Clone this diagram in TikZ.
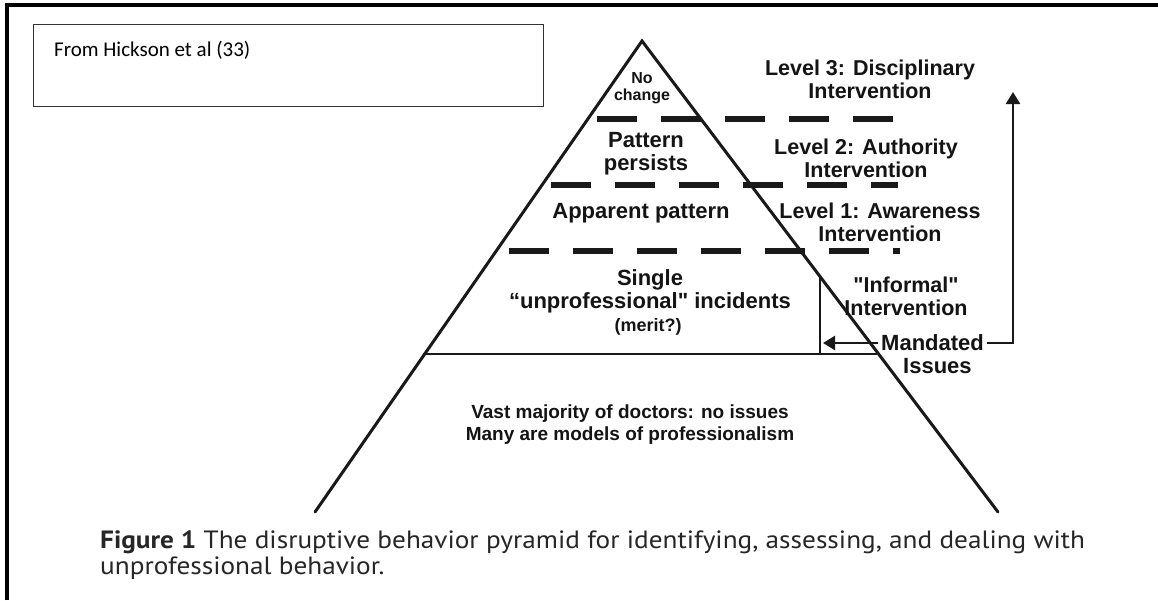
\documentclass[tikz,border=0pt]{standalone}
\usepackage{fontspec}
\setmainfont{Liberation Sans}
\newfontfamily\capfont[FakeStretch=1.09]{PT Sans}
\newfontfamily\notefont{Carlito}
\usetikzlibrary{arrows.meta}

\begin{document}
\begin{tikzpicture}[x=1pt,y=-1pt,
  lbl/.style={font=\bfseries\fontsize{22}{23}\selectfont, align=center, inner sep=0pt, text=black!92},
  lvl/.style={font=\bfseries\fontsize{21.5}{23}\selectfont, align=center, inner sep=0pt, text=black!92},
  small/.style={font=\bfseries\fontsize{16}{17}\selectfont, align=center, inner sep=0pt, text=black!92},
  base/.style={font=\bfseries\fontsize{19}{22}\selectfont, align=center, inner sep=0pt, text=black!92},
  edge/.style={line width=3pt, line cap=round, black!90},
  thin/.style={line width=2.5pt, black!90},
  dashline/.style={line width=5.5pt, black!90, dash pattern=on 40pt off 24pt},
  captxt/.style={font=\capfont\fontsize{25}{27}\selectfont, anchor=west, inner sep=0pt, text=black!85},
  tip/.style={-{Triangle[length=12pt,width=14pt]}},
]
\useasboundingbox (0,0) rectangle (1158,600);
\fill[white] (0,0) rectangle (1158,600);

% outer frame (top and left rules)
\draw[line width=4pt] (7,600) -- (7,4.5) -- (1158,4.5);

% source note
\node[draw=black!80, line width=1.2pt, minimum width=510pt, minimum height=82pt,
      anchor=north west, inner sep=0pt] (srcbox) at (33,24) {};
\node[font=\notefont\fontsize{21}{23}\selectfont, anchor=west, inner sep=0pt] (src) at (54,50) {From Hickson et al (33)};

% pyramid outline
\coordinate (apex) at (642,41);
\coordinate (lfoot) at (315,512);
\coordinate (rfoot) at (998,512);
\draw[edge] (lfoot) -- (apex) -- (rfoot);

% base of the upper tiers and the informal split
\coordinate (bl) at (423,354);
\coordinate (br) at (877,354);
\coordinate (vt) at (820,278);
\coordinate (vb) at (820,354);
\draw[thin] (bl) -- (br);
\draw[thin] (vt) -- (vb);

% dashed tier boundaries
\coordinate (d1l) at (597,119); \coordinate (d1r) at (898,119);
\coordinate (d2l) at (551,185); \coordinate (d2r) at (898,185);
\coordinate (d3l) at (509,251); \coordinate (d3r) at (900,251);
\draw[dashline] (d1l) -- (d1r);
\draw[dashline] (d2l) -- (d2r);
\draw[dashline] (d3l) -- (d3r);

% tier labels
\node[small] (nochange) at (642,88) {No\\change};
\node[lbl] (persists) at (646,154) {Pattern\\persists};
\node[lbl] (apparent) at (641,213) {Apparent pattern};
\node[lbl] (single) at (650,291) {Single\\“unprofessional\textquotedbl{} incidents};
\node[font=\bfseries\fontsize{18}{20}\selectfont, inner sep=0pt, text=black!92] (merit) at (648,327) {(merit?)};
\node[base] (vast) at (630,425) {Vast majority of doctors: no issues\\Many are models of professionalism};

% intervention labels
\node[lvl] (lev3) at (870,79) {Level 3: Disciplinary\\Intervention};
\node[lvl] (lev2) at (866,158) {Level 2: Authority\\Intervention};
\node[lvl] (lev1) at (880,222) {Level 1: Awareness\\Intervention};
\node[lvl] (informal) at (906,296) {\textquotedbl Informal\textquotedbl\\Intervention};
\node[lbl, anchor=west] (mand) at (881,343) {Mandated};
\node[lbl, anchor=west] (issues) at (903,366) {Issues};

% escalation arrows
\coordinate (arrs) at (878,343);
\coordinate (arre) at (823,343);
\draw[thin, tip] (arrs) -- (arre);
\coordinate (corner) at (1013,343);
\coordinate (top) at (1013,92);
\draw[thin, tip] (mand.east) ++(3,0) -- (corner) -- (top);

% caption
\node[captxt] (cap1) at (100,542) {\textbf{Figure 1} The disruptive behavior pyramid for identifying, assessing, and dealing with};
\node[captxt] (cap2) at (100,568) {unprofessional behavior.};
\end{tikzpicture}
\end{document}
